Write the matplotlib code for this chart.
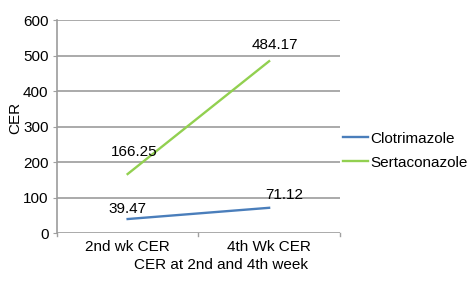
import matplotlib.pyplot as plt

plt.rcParams['font.family'] = ['Liberation Sans', 'DejaVu Sans']

# data
weeks = ['2nd wk CER', '4th Wk CER']
clotrimazole = [39.47, 71.12]
sertaconazole = [166.25, 484.17]

FS = 11
fig = plt.figure(figsize=(4.74, 2.87), dpi=100)
ax = fig.add_axes([0.120, 0.188, 0.597, 0.742])

x = list(range(len(weeks)))
ax.plot(x, clotrimazole, color='#4a7ebb', linewidth=1.7, label='Clotrimazole')
ax.plot(x, sertaconazole, color='#92d050', linewidth=1.7, label='Sertaconazole')

# value labels (offsets in points)
offsets_c = [(0, 7), (11, 9.5)]
offsets_s = [(5, 16), (4.5, 11.5)]
for xi, v, off in zip(x, clotrimazole, offsets_c):
    ax.annotate(f'{v:.2f}', (xi, v), xytext=off, textcoords='offset points',
                ha='center', va='center', fontsize=FS)
for xi, v, off in zip(x, sertaconazole, offsets_s):
    ax.annotate(f'{v:.2f}', (xi, v), xytext=off, textcoords='offset points',
                ha='center', va='center', fontsize=FS)

ax.set_xlim(-0.5, 1.5)
ax.set_ylim(0, 600)
ax.set_yticks(range(0, 601, 100))
ax.set_xticks(x)
ax.set_xticklabels(weeks, fontsize=FS)
ax.tick_params(axis='y', labelsize=FS, length=3, color='#a0a0a0', pad=3)
ax.tick_params(axis='x', length=0, pad=5)
# boundary ticks on the category axis
for xt in [-0.5, 0.5, 1.5]:
    ax.plot([xt, xt], [0, -9], color='#a0a0a0', linewidth=1, clip_on=False)

ax.grid(True, axis='y', color='#9c9c9c', linewidth=1.2)
ax.set_axisbelow(True)
for s in ['top', 'right', 'bottom']:
    ax.spines[s].set_visible(False)
ax.spines['left'].set_color('#9c9c9c')
ax.spines['left'].set_linewidth(1.2)

ax.set_ylabel('CER', fontsize=FS)
ax.yaxis.set_label_coords(-0.124, 0.54)
ax.text(0.58, -0.150, 'CER at 2nd and 4th week', transform=ax.transAxes,
        ha='center', va='center', fontsize=FS)

ax.legend(loc='center left', bbox_to_anchor=(1.01, 0.387), frameon=False,
          fontsize=FS, handlelength=1.64, handletextpad=0.15, labelspacing=0.65,
          borderaxespad=0.0, borderpad=0.0)

fig.savefig('out.png', dpi=100)
